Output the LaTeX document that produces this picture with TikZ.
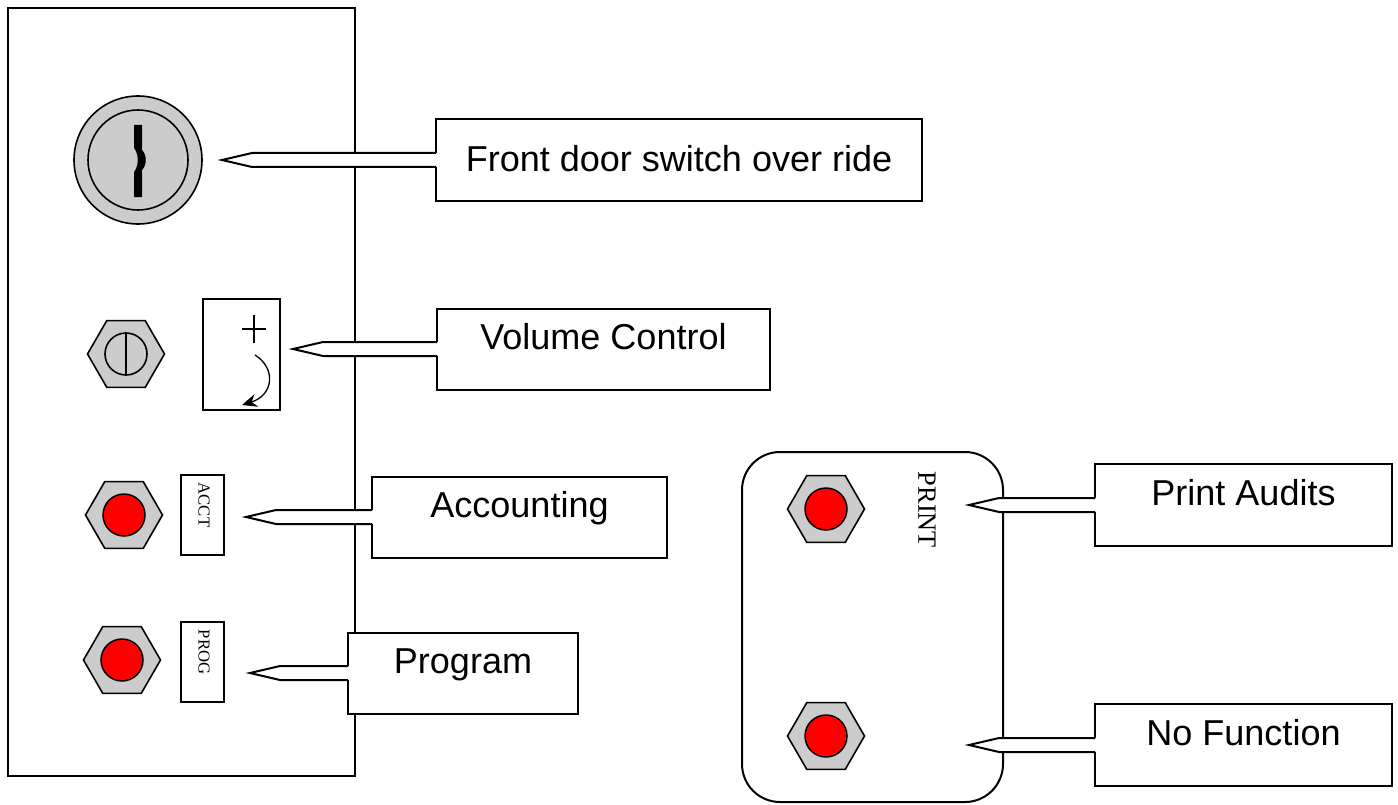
\documentclass[tikz,border=0pt]{standalone}
\usepackage{fontspec}
\setmainfont{Liberation Serif}
\setsansfont{Liberation Sans}
\usepackage{tikz}
\usetikzlibrary{arrows.meta,calc,shapes.geometric}

\definecolor{nutgray}{HTML}{CCCCCC}
\newlength{\unitpx}
\setlength{\unitpx}{0.02cm}

% pointer of a callout: from its tip to the left side of its box
\newcommand{\callpointer}[2]{%
  \fill[white] ($(#1)+(30,-7)$) rectangle ($(#2.west)+(2.5,7)$);
  \draw[line width=2\unitpx, line join=miter] ($(#2.west)+(0,-7)$) -- ($(#1)+(30,-7)$)
    -- (#1) -- ($(#1)+(30,7)$) -- ($(#2.west)+(0,7)$);}

\begin{document}
\begin{tikzpicture}[
    x=0.02cm, y=-0.02cm,
    panel/.style={draw, line width=2\unitpx},
    callbox/.style={draw, fill=white, line width=2\unitpx, inner sep=0pt, outer sep=0pt,
                text height=0pt, text depth=0pt, minimum height=81\unitpx,
                font=\sffamily\fontsize{20.5}{24}\selectfont},
    nut/.style={regular polygon, regular polygon sides=6, draw, fill=nutgray,
                line width=1.6\unitpx, minimum size=77\unitpx, inner sep=0pt},
    btn/.style={circle, draw, fill=red, line width=1.5\unitpx, minimum size=42\unitpx, inner sep=0pt},
    tag/.style={draw, line width=2.5\unitpx, minimum width=43\unitpx, minimum height=80\unitpx, inner sep=0pt},
    tagtext/.style={rotate=-90, inner sep=0pt, font=\fontsize{9.5}{11}\selectfont}
  ]
    \useasboundingbox (0,0) rectangle (1398,804);

    % door panel and print panel
    \draw[panel] (8,8) rectangle (355,776);
    \draw[panel, rounded corners=38\unitpx] (742,452) rectangle (1003,802);

    % key switch
    \draw[fill=nutgray, line width=1.6\unitpx] (138,160) circle (64);
    \draw[line width=1.6\unitpx] (138,160) circle (50);
    \fill (134,125) -- (142,125) -- (142,150) .. controls (147,155) and (147,165) .. (142,170)
      -- (142,197) -- (134,197) -- (134,172) .. controls (139,166) and (139,154) .. (134,148) -- cycle;

    % volume control
    \node[nut] (volnut) at (126,354) {};
    \node[circle, draw, line width=1.6\unitpx, minimum size=42\unitpx, inner sep=0pt] (volscrew) at (volnut) {};
    \draw[line width=1.6\unitpx] (volscrew.north) -- (volscrew.south);
    \node[draw, line width=2.5\unitpx, minimum width=77\unitpx, minimum height=111\unitpx, inner sep=0pt] (volknob) at (241.5,354.5) {};
    \draw[line width=1.3\unitpx] (242,329) -- (266,329) (254,315) -- (254,343);
    \draw[line width=1.3\unitpx, -{Stealth[length=3mm,width=2.6mm]}] (255,355) .. controls (276,368) and (274,395) .. (242,405);

    % accounting and program buttons
    \node[nut] (acctnut) at (124,515) {};
    \node[btn] (acctbtn) at (acctnut) {};
    \node[tag] (accttag) at (202.5,515) {};
    \node[tagtext] at (204,505) {ACCT};

    \node[nut] (prognut) at (122,660) {};
    \node[btn] (progbtn) at (prognut) {};
    \node[tag] (progtag) at (202.5,662) {};
    \node[tagtext] at (204,652) {PROG};

    % print panel buttons
    \node[nut] (printnut) at (826,509) {};
    \node[btn] (printbtn) at (printnut) {};
    \node[tagtext, font=\fontsize{15}{18}\selectfont] at (927,510) {PRINT};

    \node[nut] (nofnnut) at (826,736) {};
    \node[btn] (nofnbtn) at (nofnnut) {};

    % callout boxes
    \node[callbox, minimum width=486\unitpx, text height=24\unitpx] (doorbox) at (679,160) {Front door switch over ride};
    \node[callbox, minimum width=333\unitpx] (volbox)   at (603.5,349) {Volume Control};
    \node[callbox, minimum width=295\unitpx] (acctbox)  at (519.5,517) {Accounting};
    \node[callbox, minimum width=230\unitpx] (progbox)  at (463,673)   {Program};
    \node[callbox, minimum width=297\unitpx, minimum height=82\unitpx] (printbox) at (1243.5,505) {Print Audits};
    \node[callbox, minimum width=297\unitpx, minimum height=82\unitpx] (nofnbox)  at (1243.5,745) {No Function};

    \coordinate (doortip)  at (222,0 |- doorbox.west);
    \coordinate (voltip)   at (293,0 |- volbox.west);
    \coordinate (accttip)  at (246,0 |- acctbox.west);
    \coordinate (progtip)  at (250,0 |- progbox.west);
    \coordinate (printtip) at (969,0 |- printbox.west);
    \coordinate (nofntip)  at (969,0 |- nofnbox.west);

    \callpointer{doortip}{doorbox}
    \callpointer{voltip}{volbox}
    \callpointer{accttip}{acctbox}
    \callpointer{progtip}{progbox}
    \callpointer{printtip}{printbox}
    \callpointer{nofntip}{nofnbox}
  \end{tikzpicture}
\end{document}
